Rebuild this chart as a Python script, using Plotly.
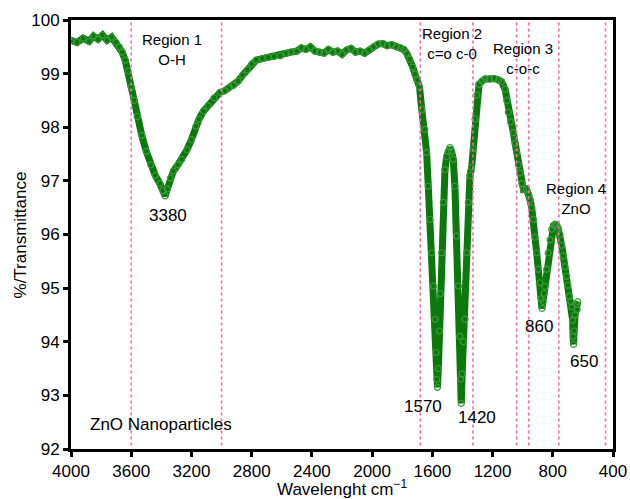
import plotly.graph_objects as go

# ---- data ----
wavenumber = [
    4000, 3960, 3920, 3880, 3850, 3820, 3790, 3760, 3730, 3700, 3680, 3660, 3640, 3620,
    3600, 3580, 3560, 3530, 3500, 3470, 3440, 3410, 3390, 3375, 3360, 3340, 3320, 3290,
    3265, 3230, 3200, 3170, 3150, 3120, 3090, 3050, 3010, 2980, 2950, 2920, 2890, 2860,
    2830, 2800, 2770, 2730, 2690, 2650, 2610, 2570, 2540, 2500, 2470, 2440, 2410, 2380,
    2350, 2320, 2290, 2260, 2230, 2200, 2170, 2140, 2110, 2080, 2050, 2020, 1990, 1960,
    1930, 1900, 1870, 1840, 1810, 1790, 1770, 1750, 1730, 1715, 1700, 1685, 1670, 1650,
    1638, 1627, 1616, 1604, 1593, 1582, 1575, 1570, 1566, 1560, 1553, 1546, 1538, 1527,
    1516, 1505, 1494, 1483, 1472, 1461, 1450, 1439, 1427, 1418, 1412, 1408, 1402, 1394,
    1383, 1372, 1361, 1350, 1339, 1328, 1317, 1305, 1290, 1270, 1250, 1220, 1190, 1160,
    1140, 1117, 1105, 1095, 1080, 1062, 1050, 1040, 1028, 1018, 1005, 995, 975, 960,
    951, 940, 929, 918, 907, 896, 885, 878, 872, 865, 858, 852, 841, 830, 818, 807, 795,
    785, 775, 765, 752, 741, 730, 719, 708, 700, 690, 680, 672, 668, 665, 662, 658, 652,
    645, 638, 634,
]
transmittance = [
    99.62, 99.58, 99.66, 99.60, 99.70, 99.64, 99.72, 99.62, 99.68, 99.58, 99.50, 99.40, 99.25, 99.05,
    98.75, 98.50, 98.20, 97.85, 97.55, 97.30, 97.10, 96.95, 96.82, 96.72, 96.85, 97.05, 97.18, 97.30,
    97.40, 97.58, 97.77, 98.02, 98.15, 98.30, 98.40, 98.55, 98.65, 98.68, 98.74, 98.78, 98.86, 98.97,
    99.07, 99.18, 99.25, 99.28, 99.30, 99.32, 99.33, 99.38, 99.40, 99.42, 99.48, 99.45, 99.50, 99.42,
    99.40, 99.38, 99.45, 99.40, 99.42, 99.36, 99.44, 99.47, 99.40, 99.42, 99.38, 99.44, 99.50, 99.55,
    99.56, 99.52, 99.54, 99.50, 99.48, 99.45, 99.38, 99.27, 99.12, 98.99, 98.88, 98.75, 98.33, 97.96,
    97.53, 96.90, 96.28, 95.66, 95.04, 94.42, 93.80, 93.30, 93.15, 93.50, 94.20, 94.90, 95.66, 96.60,
    97.21, 97.45, 97.55, 97.62, 97.55, 97.40, 96.90, 95.97, 95.04, 94.10, 93.30, 92.85, 93.40, 94.00,
    94.42, 95.66, 96.60, 97.10, 97.25, 97.60, 98.15, 98.60, 98.80, 98.86, 98.90, 98.90, 98.91, 98.88,
    98.85, 98.71, 98.50, 98.28, 98.10, 97.90, 97.70, 97.53, 97.30, 97.15, 96.95, 96.84, 96.85, 96.75,
    96.65, 96.50, 96.28, 95.95, 95.66, 95.35, 95.10, 94.80, 94.62, 94.75, 94.90, 95.03, 95.35, 95.66, 95.90, 96.10, 96.17,
    96.19, 96.18, 96.12, 96.00, 95.80, 95.60, 95.40, 95.22, 95.05, 94.85, 94.75, 94.65, 94.40, 94.10, 93.95, 94.20, 94.50,
    94.70, 94.60, 94.75,
]

region_lines = [3600, 3000, 1680, 1330, 1040, 960, 760, 450]

label_texts = ["Region 1<br>O-H", "Region 2<br>c=o c-0", "Region 3<br>c-o-c", "Region 4<br>ZnO",
               "3380", "1570", "1420", "860", "650", "ZnO Nanoparticles"]
label_x = [3329, 1472, 996, 646, 3356, 1659, 1305, 892, 593, 3402]
label_y = [99.45, 99.57, 99.29, 96.67, 96.36, 92.80, 92.59, 94.29, 93.63, 92.46]
label_sizes = [15, 15, 15, 15, 17, 17, 17, 17, 17, 17]

x_title = "Wavelenght cm<sup>−1</sup>"
y_title = "%/Transmittance"

x_ticks = [4000, 3600, 3200, 2800, 2400, 2000, 1600, 1200, 800, 400]
y_ticks = [92, 93, 94, 95, 96, 97, 98, 99, 100]

FONT = "Liberation Sans, Arial, Helvetica, sans-serif"
GREEN = "#0b780b"

fig = go.Figure()
fig.add_trace(go.Scatter(
    x=wavenumber, y=transmittance, mode="lines+markers",
    line=dict(color=GREEN, width=7),
    marker=dict(symbol="circle-open", size=6, color="#3a9a3a", line=dict(width=1.2)),
    showlegend=False, hoverinfo="skip",
))

for xv in region_lines:
    fig.add_shape(type="line", xref="x", yref="paper", x0=xv, x1=xv, y0=0.008, y1=1,
                  line=dict(color="#f26aa8", width=1.6, dash="dot"), layer="above")

for t, xv, yv, s in zip(label_texts, label_x, label_y, label_sizes):
    fig.add_annotation(x=xv, y=yv, xref="x", yref="y", text=t, showarrow=False,
                       xanchor="center", yanchor="middle",
                       font=dict(family=FONT, size=s, color="black"))

# axis titles as paper-anchored annotations
fig.add_annotation(x=0.5, y=-0.090, xref="paper", yref="paper", text=x_title, showarrow=False,
                   xanchor="center", yanchor="middle", font=dict(family=FONT, size=17, color="black"))
fig.add_annotation(x=-0.0923, y=0.5, xref="paper", yref="paper", text=y_title, showarrow=False,
                   textangle=-90, xanchor="center", yanchor="middle",
                   font=dict(family=FONT, size=17, color="black"))

fig.update_layout(
    width=630, height=499,
    margin=dict(l=71, r=17, t=20, b=50),
    paper_bgcolor="white", plot_bgcolor="white",
    font=dict(family=FONT, size=17, color="black"),
    xaxis=dict(range=[4000, 400], tickvals=x_ticks, ticks="outside", ticklen=5, tickwidth=2.5,
               tickcolor="black", showline=True, linewidth=3, linecolor="black", mirror=True,
               showgrid=False, zeroline=False, tickfont=dict(size=17), automargin=False),
    yaxis=dict(range=[92, 100], tickvals=y_ticks, ticks="outside", ticklen=5, tickwidth=2.5,
               tickcolor="black", showline=True, linewidth=3, linecolor="black", mirror=True,
               showgrid=False, zeroline=False, tickfont=dict(size=17), automargin=False),
)

fig.write_html("out.html")
